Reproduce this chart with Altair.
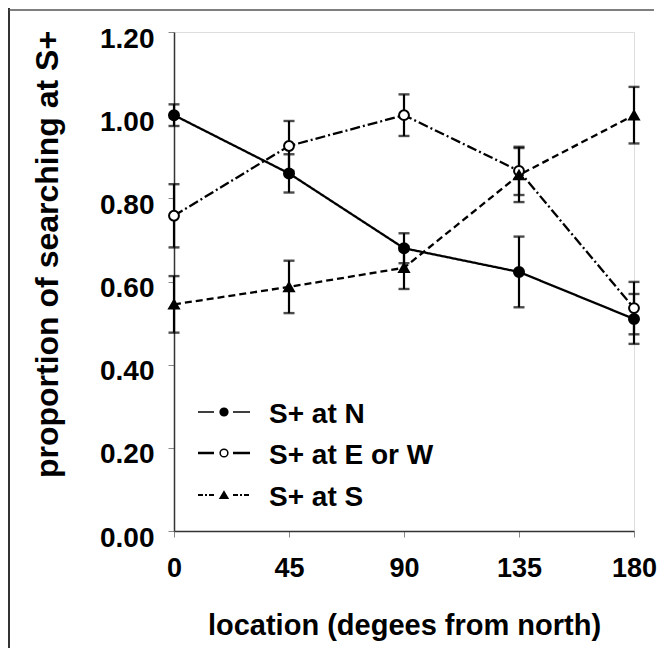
import altair as alt
import pandas as pd

# ---- data ----
angles = [0, 45, 90, 135, 180]
series_names = ["S+ at N", "S+ at E or W", "S+ at S"]
n_mean = [1.00, 0.86, 0.68, 0.623, 0.51]
n_err = [0.026, 0.046, 0.036, 0.085, 0.06]
ew_mean = [0.758, 0.926, 1.00, 0.866, 0.536]
ew_err = [0.076, 0.06, 0.05, 0.058, 0.063]
s_mean = [0.545, 0.587, 0.633, 0.856, 1.00]
s_err = [0.068, 0.063, 0.051, 0.065, 0.068]
y_ticks = [0.0, 0.2, 0.4, 0.6, 0.8, 1.0, 1.2]

rows = []
for name, means, errs in zip(series_names, [n_mean, ew_mean, s_mean], [n_err, ew_err, s_err]):
    for a, m, e in zip(angles, means, errs):
        rows.append({"series": name, "angle": a, "mean": m, "lo": m - e, "hi": m + e})
df = pd.DataFrame(rows)

FONT = "Liberation Sans"
dash_scale = alt.Scale(domain=series_names, range=[[1, 0], [10, 3, 2, 3], [7, 4]])
shape_scale = alt.Scale(domain=series_names, range=["circle", "circle", "triangle-up"])
fill_scale = alt.Scale(domain=series_names, range=["black", "white", "black"])
size_scale = alt.Scale(domain=series_names, range=[100, 95, 90])

x_enc = alt.X(
    "angle:Q",
    scale=alt.Scale(domain=[0, 180], nice=False, zero=False),
    axis=alt.Axis(
        values=angles, title="location (degees from north)", grid=False,
        labelFont=FONT, labelFontSize=27, labelFontWeight="bold", labelColor="black",
        labelFlush=False, labelPadding=18,
        titleFont=FONT, titleFontSize=29, titleFontWeight="bold", titleColor="black",
        titlePadding=30, tickSize=6, tickColor="#888888", domainColor="#333333",
        domainWidth=1.5,
    ),
)
y_enc = alt.Y(
    "mean:Q",
    scale=alt.Scale(domain=[0, 1.2], nice=False, zero=False),
    axis=alt.Axis(
        values=y_ticks, format=".2f", title="proportion of searching at S+", grid=False,
        labelFont=FONT, labelFontSize=28, labelFontWeight="bold", labelColor="black",
        labelFlush=False, labelPadding=14, labelOffset=7,
        titleFont=FONT, titleFontSize=32, titleFontWeight="bold", titleColor="black",
        titleX=-127, titleY=222, titleAlign="center", titleBaseline="middle", titleAngle=-90,
        tickSize=6, tickColor="#888888", domainColor="#333333", domainWidth=1.5,
    ),
)

base = alt.Chart(df)

lines = base.mark_line(color="black", strokeWidth=2.3).encode(
    x=x_enc, y=y_enc,
    strokeDash=alt.StrokeDash("series:N", scale=dash_scale, legend=None),
    detail="series:N",
)
bars = base.mark_rule(color="black", strokeWidth=2.2).encode(x="angle:Q", y="lo:Q", y2="hi:Q")
caps_lo = base.mark_tick(color="black", orient="horizontal", size=11, thickness=2.4).encode(
    x="angle:Q", y="lo:Q")
caps_hi = base.mark_tick(color="black", orient="horizontal", size=11, thickness=2.4).encode(
    x="angle:Q", y="hi:Q")
points = base.mark_point(filled=True, stroke="black", strokeWidth=2, opacity=1).encode(
    x="angle:Q", y="mean:Q",
    shape=alt.Shape("series:N", scale=shape_scale, legend=None),
    fill=alt.Fill("series:N", scale=fill_scale, legend=None),
    size=alt.Size("series:N", scale=size_scale, legend=None),
)

# ---- hand-made legend inside the plot ----
leg_y = [380, 421, 463]
leg_dash = [[1, 0], [1, 0], [5, 2, 2, 2]]
leg_width = [1.3, 2.6, 2.2]
leg_shape = ["circle", "circle", "triangle-up"]
leg_fill = ["black", "white", "black"]
legend_layers = []
for i, name in enumerate(series_names):
    one = pd.DataFrame({"label": [name]})
    c = alt.Chart(one)
    for xa, xb in [(24, 40), (59, 76)]:
        legend_layers.append(
            c.mark_rule(color="black", strokeWidth=leg_width[i], strokeDash=leg_dash[i]).encode(
                x=alt.value(xa), x2=alt.value(xb), y=alt.value(leg_y[i])))
    legend_layers.append(
        c.mark_point(filled=True, fill=leg_fill[i], stroke="black", strokeWidth=1.5,
                     shape=leg_shape[i], size=60, opacity=1).encode(
            x=alt.value(50), y=alt.value(leg_y[i])))
    legend_layers.append(
        c.mark_text(align="left", baseline="middle", font=FONT, fontSize=28, fontWeight="bold",
                    color="black", dy=3).encode(
            x=alt.value(95), y=alt.value(leg_y[i]), text="label:N"))

# ---- scan frame (left and top edges of the figure) ----
frame_df = pd.DataFrame({"k": [0]})
frame_left = alt.Chart(frame_df).mark_rule(color="#333333", strokeWidth=2).encode(
    x=alt.value(-165), y=alt.value(-24), y2=alt.value(620))
frame_top = alt.Chart(frame_df).mark_rule(color="#555555", strokeWidth=1.5).encode(
    x=alt.value(-165), x2=alt.value(480), y=alt.value(-22))

chart = alt.layer(
    lines, bars, caps_lo, caps_hi, points, *legend_layers, frame_left, frame_top
).properties(
    width=460, height=499,
    autosize=alt.AutoSizeParams(type="none"),
    padding={"left": 166, "top": 24, "right": 24, "bottom": 117},
).configure_view(
    stroke="#888888", strokeWidth=1.5,
).configure(background="white")

chart.save("out.html", embed_options={"renderer": "svg", "actions": False})
